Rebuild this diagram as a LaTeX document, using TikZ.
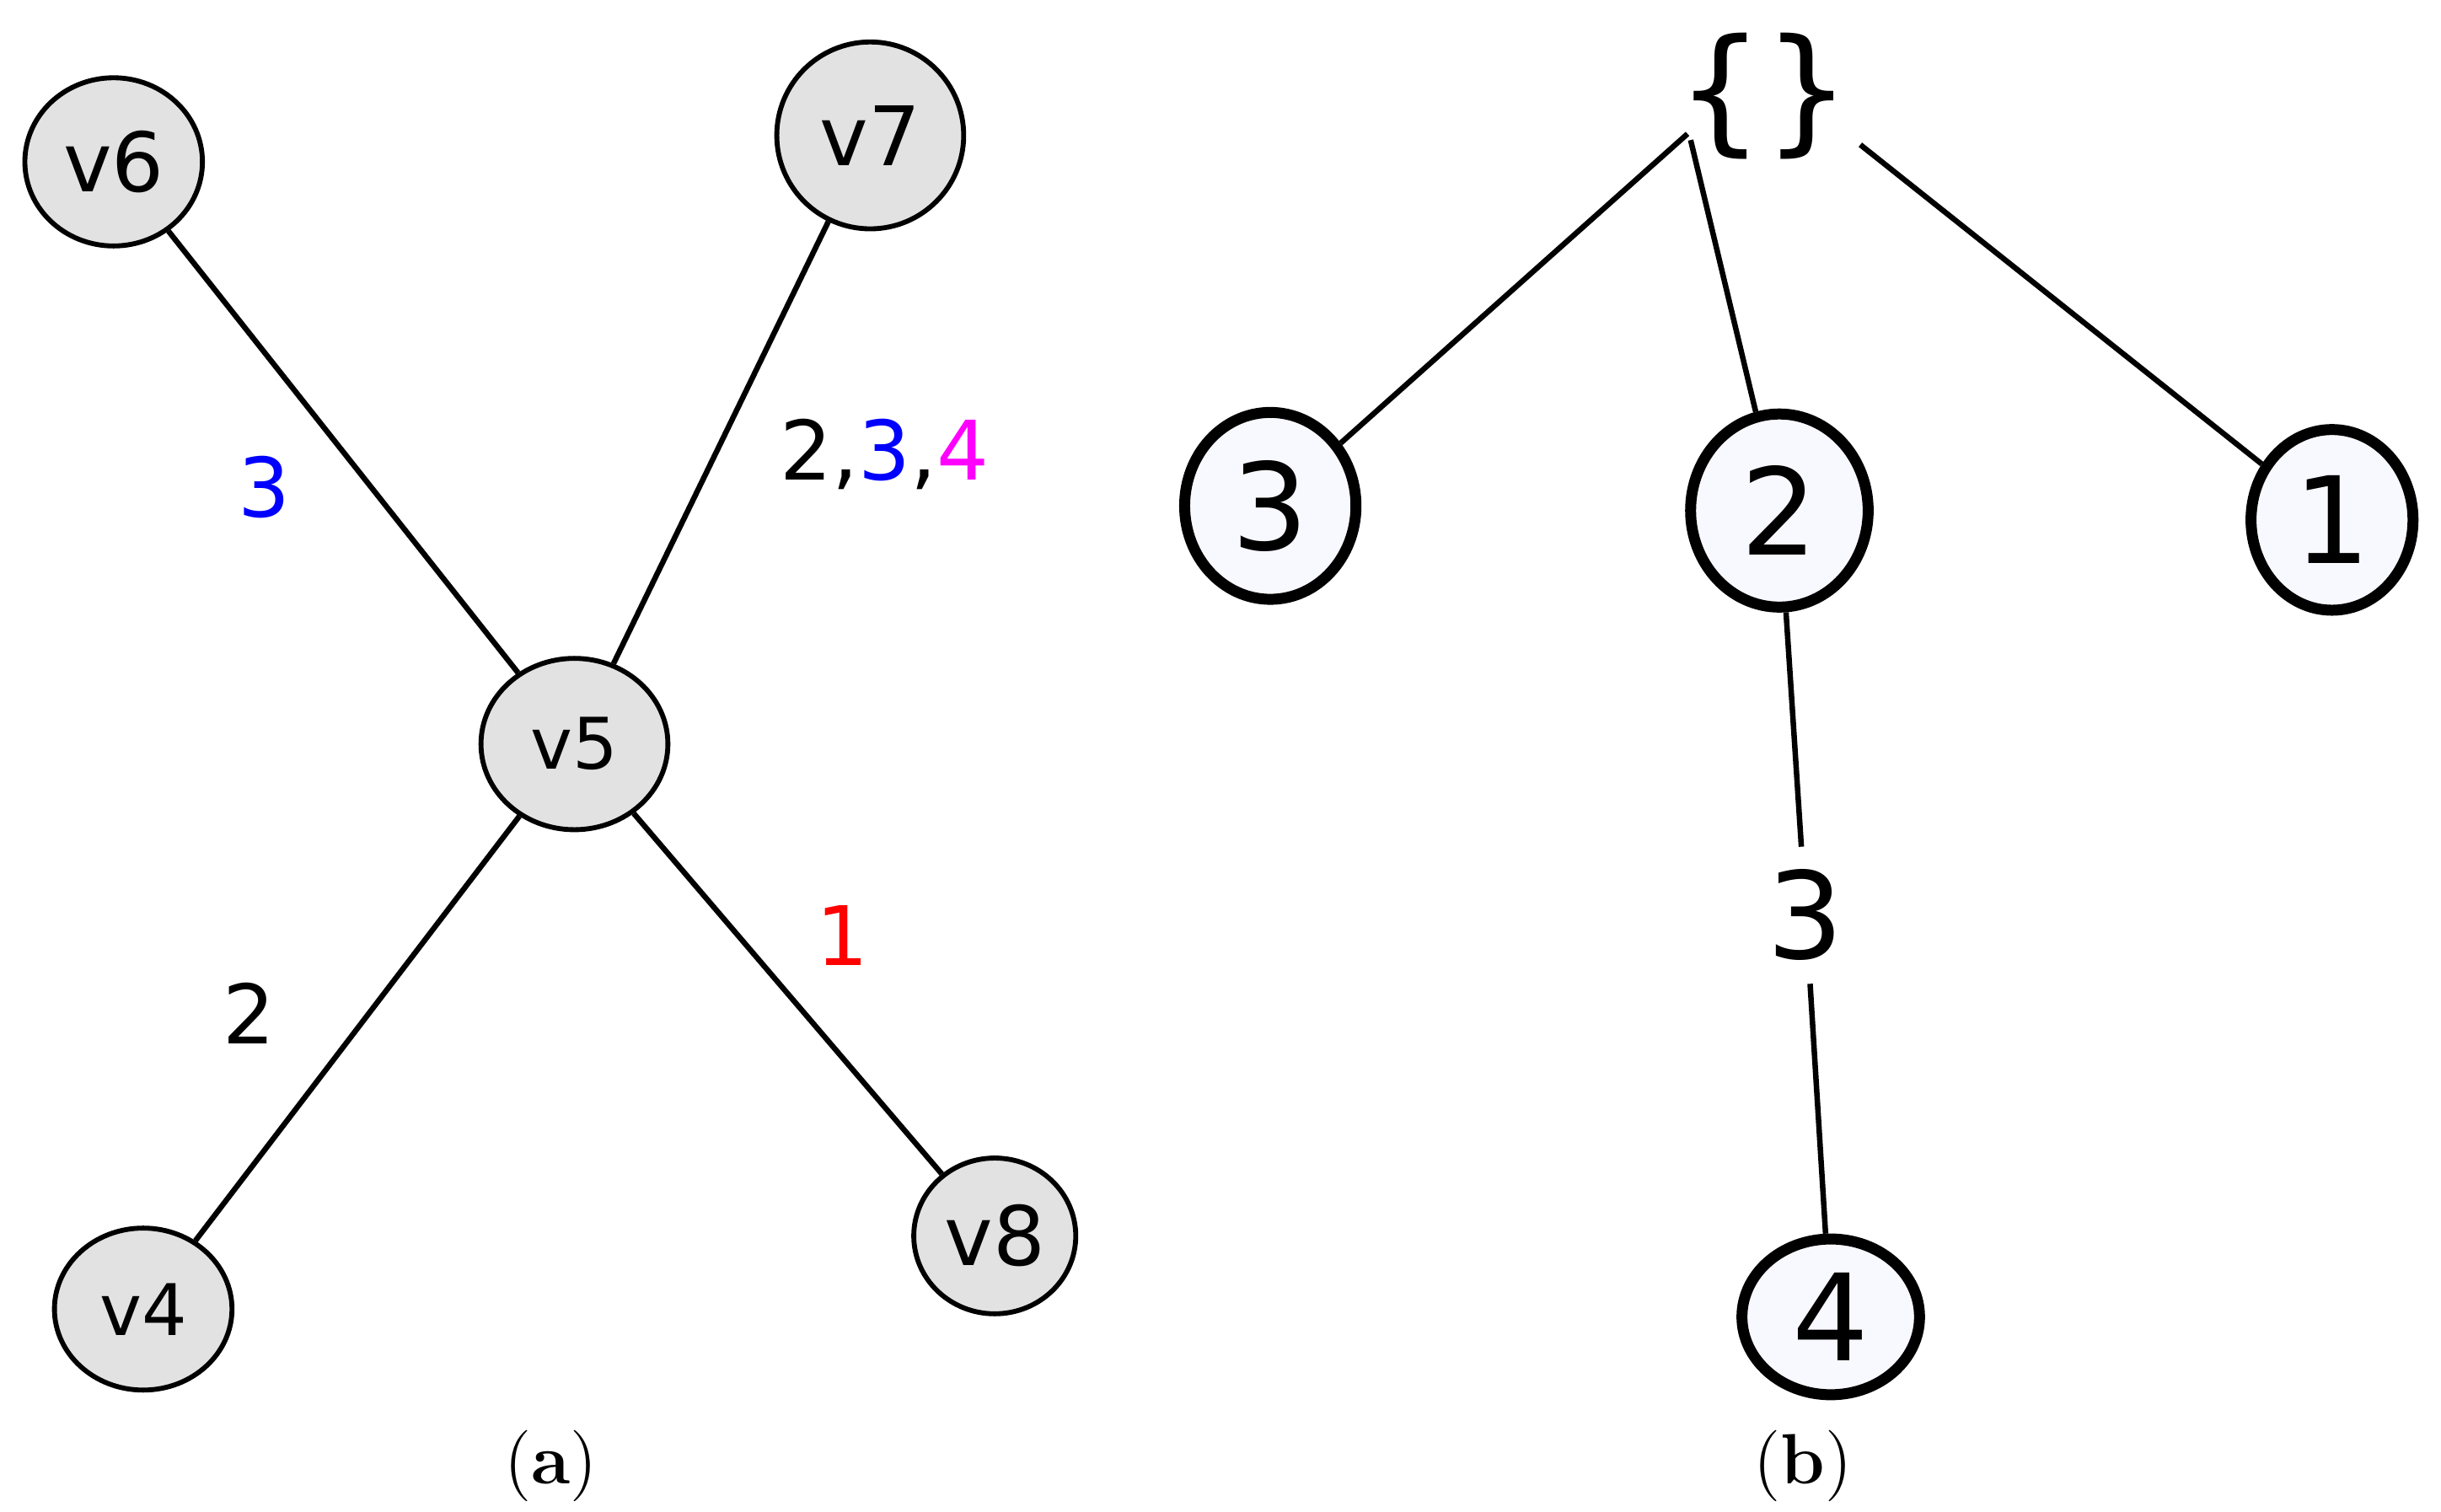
\documentclass[tikz,border=0pt]{standalone}
\usepackage{fontspec}
\usetikzlibrary{shapes.geometric}
\newfontfamily\dv{DejaVu Sans}
\definecolor{mag}{RGB}{255,0,255}
\begin{document}
\begin{tikzpicture}[x=0.01cm,y=-0.01cm,
  g/.style={ellipse,draw,line width=0.9pt,fill={rgb,255:red,226;green,226;blue,226},inner sep=0pt,font=\dv\fontsize{15}{18}\selectfont},
  t/.style={ellipse,draw,line width=2pt,fill={rgb,255:red,248;green,248;blue,255},inner sep=0pt,font=\dv\fontsize{22}{26}\selectfont},
  e/.style={line width=1pt},
  lab/.style={font=\dv\fontsize{15}{18}\selectfont}]
\useasboundingbox (0,0) rectangle (1568,971);
% (a)
\node[g,minimum width=1.14cm,minimum height=1.08cm] (v6) at (73,104) {v6};
\node[g,minimum width=1.2cm,minimum height=1.2cm] (v7) at (559,87) {v7};
\node[g,minimum width=1.2cm,minimum height=1.1cm,font=\dv\fontsize{13}{16}\selectfont] (v5) at (369,478) {v5};
\node[g,minimum width=1.14cm,minimum height=1.04cm,font=\dv\fontsize{13}{16}\selectfont] (v4) at (92,841) {v4};
\node[g,minimum width=1.04cm,minimum height=1.0cm] (v8) at (639,794) {v8};
\draw[e] (v6) -- (v5);
\draw[e] (v7) -- (v5);
\draw[e] (v5) -- (v4);
\draw[e] (v5) -- (v8);
\node[lab,text=blue] (l1) at (170,313) {3};
\node[lab] (l2) at (568,292) {2,\textcolor{blue}{3},\textcolor{mag}{4}};
\node[lab,text=red] (l3) at (541,601) {1};
\node[lab] (l4) at (160,651) {2};
% (b)
\node[font=\dv\fontsize{25}{28}\selectfont] (br) at (1133,62) {\{\}};
\coordinate (ba) at (1084,86);
\coordinate (bb) at (1086,90);
\coordinate (bc) at (1195,93);
\node[t,minimum width=1.1cm,minimum height=1.2cm] (n3) at (816,325) {3};
\node[t,minimum width=1.14cm,minimum height=1.24cm] (n2) at (1143,328) {2};
\node[t,minimum width=1.04cm,minimum height=1.16cm] (n1) at (1498,334) {1};
\node[t,minimum width=1.14cm,minimum height=1.0cm] (n4) at (1176,846) {4};
\draw[e] (ba) -- (n3);
\draw[e] (bb) -- (n2);
\draw[e] (bc) -- (n1);
\node[font=\dv\fontsize{22}{26}\selectfont,inner sep=4pt] (m3) at (1160,588) {3};
\draw[e] (n2) -- (m3);
\draw[e] (m3) -- (n4);
\node[font=\fontsize{13}{16}\selectfont] (ca) at (354,942) {(\textbf{a})};
\node[font=\fontsize{13}{16}\selectfont] (cb) at (1158,942) {(\textbf{b})};
\end{tikzpicture}
\end{document}
